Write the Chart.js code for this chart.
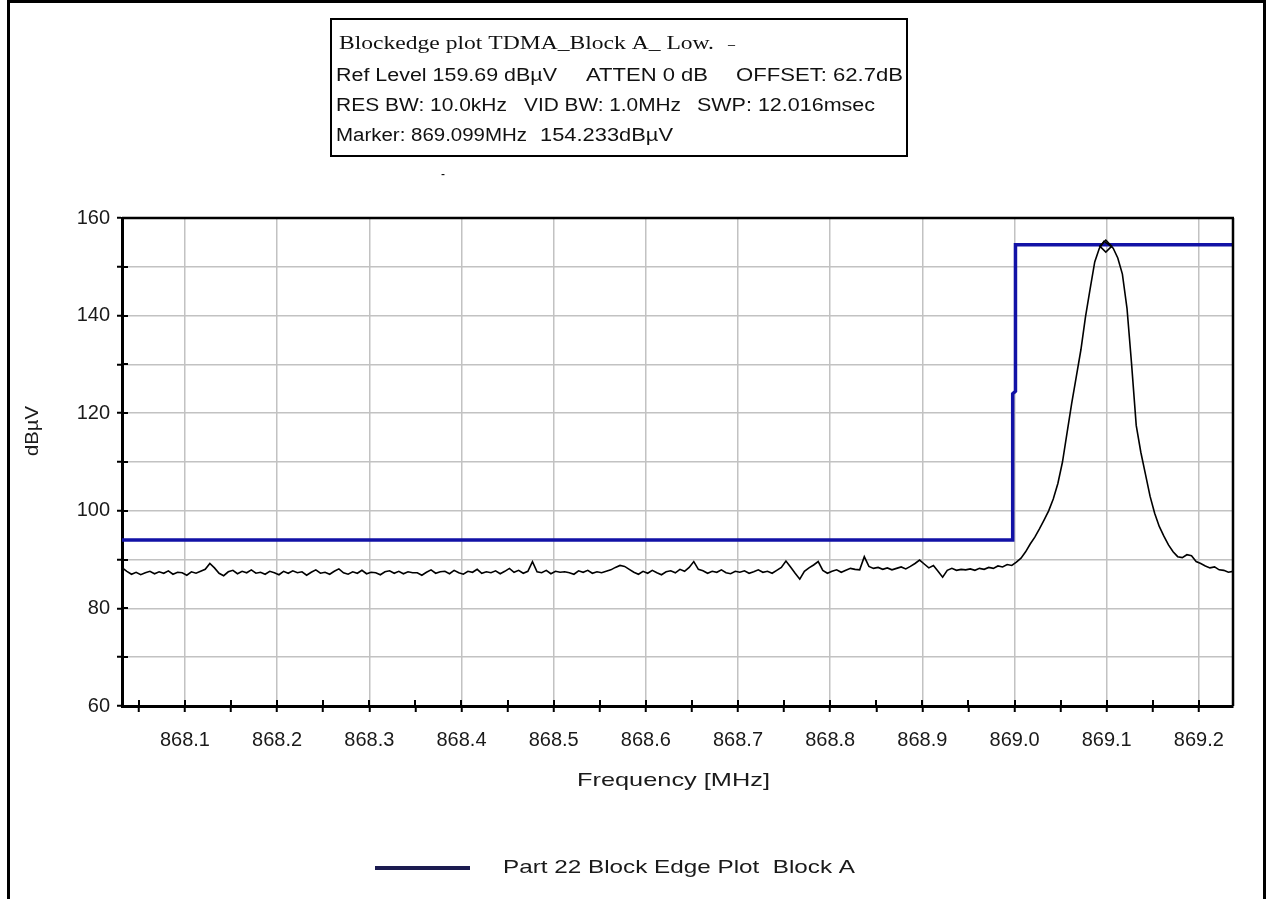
<!DOCTYPE html>
<html>
<head>
<meta charset="utf-8">
<script src="https://cdn.jsdelivr.net/npm/chart.js@4.4.1/dist/chart.umd.min.js"></script>
<style>
  html, body { margin: 0; padding: 0; background: #fff; }
  canvas { display: block; }
</style>
</head>
<body>
<canvas id="plot" width="1268" height="899"></canvas>
<script>
// sweep grid of the analyzer trace
const freqStart = 868.032;
const freqStep = 0.005;

// measured trace, dBµV (one value per sweep point)
const level = [
  88.3, 87.6, 87.0, 87.4, 86.9, 87.3, 87.6, 87.1, 87.5, 87.2, 87.7, 87.0, 87.4, 87.3, 86.8, 87.5, 87.2, 87.6, 88.0, 89.2,
  88.3, 87.2, 86.7, 87.5, 87.8, 87.1, 87.6, 87.3, 87.9, 87.2, 87.4, 87.0, 87.6, 87.3, 86.9, 87.6, 87.2, 87.7, 87.3, 87.5,
  86.8, 87.4, 87.9, 87.2, 87.4, 87.0, 87.6, 88.1, 87.3, 87.0, 87.5, 87.2, 87.8, 87.1, 87.4, 87.3, 86.9, 87.5, 87.7, 87.2,
  87.6, 87.1, 87.5, 87.3, 87.3, 86.8, 87.4, 87.9, 87.2, 87.5, 87.6, 87.1, 87.8, 87.3, 87.0, 87.6, 87.4, 88.0, 87.2, 87.5,
  87.3, 87.7, 87.1, 87.6, 88.2, 87.4, 87.8, 87.2, 87.6, 89.6, 87.5, 87.3, 87.8, 87.1, 87.6, 87.4, 87.5, 87.3, 87.0, 87.7,
  87.4, 87.8, 87.2, 87.5, 87.3, 87.6, 87.9, 88.4, 88.8, 88.6, 88.0, 87.4, 87.0, 87.6, 87.2, 87.8, 87.3, 86.9, 87.5, 87.7,
  87.3, 88.0, 87.6, 88.4, 89.6, 88.0, 87.7, 87.2, 87.6, 87.4, 87.9, 87.3, 87.1, 87.6, 87.4, 87.7, 87.2, 87.5, 87.9, 87.4,
  87.6, 87.2, 87.8, 88.4, 89.7, 88.5, 87.2, 86.0, 87.6, 88.3, 88.9, 89.6, 87.8, 87.2, 87.6, 87.9, 87.4, 87.8, 88.2, 88.0,
  87.9, 90.6, 88.6, 88.2, 88.4, 88.0, 88.3, 87.9, 88.2, 88.5, 88.1, 88.6, 89.2, 89.9, 89.1, 88.3, 88.8, 87.6, 86.4, 87.8,
  88.2, 87.8, 88.0, 87.9, 88.1, 87.8, 88.2, 88.0, 88.4, 88.2, 88.7, 88.5, 89.0,
  88.8, 89.5, 90.3, 91.6, 93.2, 94.6, 96.3, 98.1, 100.0, 102.4, 105.6, 110.0, 116.0, 122.0, 127.5, 133.0, 139.8, 145.5,
  151.0, 153.8, 155.2, 154.6, 153.8, 151.8, 148.5, 141.5, 130.0, 117.5, 112.0, 107.5, 103.0, 99.5, 96.8, 94.8, 93.0,
  91.6, 90.6, 90.4, 91.0, 90.8, 89.6, 89.2, 88.7, 88.3, 88.5, 87.9, 87.8, 87.4, 87.6
];

// block edge limit line
const limitFreq = [868.0317, 868.998, 868.998, 869.001, 869.001, 869.237];
const limitLevel = [94, 94, 124, 124.5, 154.5, 154.5];

// marker
const markerFreq = [869.099];
const markerLevel = [154.233];

const xMin = 868.0317, xMax = 869.237;
const yMin = 60, yMax = 160;

const headerTitle = "Blockedge plot TDMA_Block A_ Low.";
const headerRow2 = ["Ref Level 159.69 dBµV", "ATTEN 0 dB", "OFFSET: 62.7dB"];
const headerRow3 = ["RES BW: 10.0kHz", "VID BW: 1.0MHz", "SWP: 12.016msec"];
const headerRow4 = ["Marker: 869.099MHz", "154.233dBµV"];
const xTitle = "Frequency [MHz]";
const yTitle = "dBµV";
const legendLabel = "Part 22 Block Edge Plot  Block A";

const isTenth = (v) => Math.abs(v * 10 - Math.round(v * 10)) < 1e-6;

// draws text squeezed/stretched to a given width (the original is a stretched screen grab)
function fitText(ctx, text, x, y, w, font) {
  ctx.save();
  ctx.font = font;
  const m = ctx.measureText(text).width;
  ctx.translate(x, y);
  ctx.scale(w / m, 1);
  ctx.fillText(text, 0, 0);
  ctx.restore();
}

function seg(ctx, x1, y1, x2, y2) {
  ctx.beginPath();
  ctx.moveTo(x1, y1);
  ctx.lineTo(x2, y2);
  ctx.stroke();
}

const decor = {
  id: "decor",
  afterDraw(chart) {
    const { ctx, chartArea: a, scales } = chart;
    const sx = scales.x, sy = scales.y;
    const sans = '"Liberation Sans", Arial, sans-serif';
    ctx.save();

    // inner halves of the tick marks
    ctx.strokeStyle = "#000";
    ctx.lineWidth = 2;
    sx.ticks.forEach((t) => {
      const px = Math.round(sx.getPixelForValue(t.value));
      seg(ctx, px, a.bottom, px, a.bottom - 6);
    });
    sy.ticks.forEach((t) => {
      const py = Math.round(sy.getPixelForValue(t.value));
      seg(ctx, a.left, py, a.left + 6, py);
    });

    // top and right frame of the plot
    ctx.lineWidth = 2.5;
    seg(ctx, a.left, a.top, a.right + 1, a.top);
    seg(ctx, a.right, a.top, a.right, a.bottom);

    // outer page frame
    ctx.lineWidth = 3;
    seg(ctx, 8.5, 0, 8.5, 899);
    seg(ctx, 7, 1.5, 1266, 1.5);
    seg(ctx, 1264.5, 0, 1264.5, 899);

    // header box
    ctx.fillStyle = "#fff";
    ctx.fillRect(331, 19, 576, 137);
    ctx.lineWidth = 2;
    ctx.strokeRect(331, 19, 576, 137);
    ctx.fillStyle = "#111";
    ctx.textBaseline = "middle";
    fitText(ctx, headerTitle, 339, 44, 375, '18px "Liberation Serif", serif');
    ctx.textBaseline = "alphabetic";
    fitText(ctx, "_", 728, 44, 7, '16px "Liberation Serif", serif');
    ctx.textBaseline = "middle";
    const row2x = [[336, 221], [586, 122], [736, 167]];
    const row3x = [[336, 171], [524, 157], [697, 178]];
    const row4x = [[336, 191], [540, 133]];
    headerRow2.forEach((s, i) => fitText(ctx, s, row2x[i][0], 76, row2x[i][1], "18px " + sans));
    headerRow3.forEach((s, i) => fitText(ctx, s, row3x[i][0], 106, row3x[i][1], "18px " + sans));
    headerRow4.forEach((s, i) => fitText(ctx, s, row4x[i][0], 136, row4x[i][1], "18px " + sans));
    fitText(ctx, "-", 441, 175, 4, "14px " + sans);

    // axis titles
    ctx.fillStyle = "#1a1a1a";
    fitText(ctx, xTitle, 577, 781, 193, "19px " + sans);
    ctx.save();
    ctx.translate(33, 431);
    ctx.rotate(-Math.PI / 2);
    fitText(ctx, yTitle, -25, 0, 50, "19px " + sans);
    ctx.restore();

    // legend
    ctx.strokeStyle = "#1b1b50";
    ctx.lineWidth = 4;
    seg(ctx, 375, 868, 470, 868);
    fitText(ctx, legendLabel, 503, 868, 352, "19px " + sans);

    ctx.restore();
  },
};

const trace = level.map((v, i) => ({ x: freqStart + i * freqStep, y: v }));
const limit = limitFreq.map((f, i) => ({ x: f, y: limitLevel[i] }));
const mark = markerFreq.map((f, i) => ({ x: f, y: markerLevel[i] }));

new Chart(document.getElementById("plot"), {
  type: "line",
  data: {
    datasets: [
      {
        label: "Trace",
        data: trace,
        borderColor: "#000",
        borderWidth: 1.6,
        pointRadius: 0,
        tension: 0,
        order: 1,
      },
      {
        label: legendLabel,
        data: limit,
        borderColor: "#1212a6",
        borderWidth: 3.5,
        pointRadius: 0,
        tension: 0,
        order: 2,
      },
      {
        label: "Marker",
        data: mark,
        showLine: false,
        pointStyle: "rectRot",
        pointRadius: 6,
        pointBorderColor: "#000",
        pointBackgroundColor: "rgba(255,255,255,0)",
        pointBorderWidth: 1.5,
        order: 0,
      },
    ],
  },
  options: {
    responsive: false,
    animation: false,
    devicePixelRatio: 1,
    layout: { padding: { top: 218, right: 35, left: 0, bottom: 0 } },
    plugins: { legend: { display: false }, tooltip: { enabled: false } },
    scales: {
      x: {
        type: "linear",
        min: xMin,
        max: xMax,
        afterFit: (s) => { s.height = 193; },
        border: { color: "#000", width: 3 },
        grid: {
          color: (c) => (c.tick && isTenth(c.tick.value) ? "#c2c2c2" : "rgba(0,0,0,0)"),
          lineWidth: 1.5,
          tickColor: "#000",
          tickWidth: 2,
          tickLength: 6,
        },
        ticks: {
          stepSize: 0.05,
          includeBounds: false,
          autoSkip: false,
          maxRotation: 0,
          padding: 16,
          color: "#1a1a1a",
          font: { family: '"Liberation Sans", Arial, sans-serif', size: 20 },
          callback: (v) => (isTenth(v) ? Number(v).toFixed(1) : ""),
        },
      },
      y: {
        min: yMin,
        max: yMax,
        afterFit: (s) => { s.width = 122; },
        border: { color: "#000", width: 3 },
        grid: {
          color: "#c2c2c2",
          lineWidth: 1.5,
          tickColor: "#000",
          tickWidth: 2,
          tickLength: 5,
        },
        ticks: {
          stepSize: 10,
          autoSkip: false,
          padding: 7,
          color: "#1a1a1a",
          font: { family: '"Liberation Sans", Arial, sans-serif', size: 20 },
          callback: (v) => (v % 20 === 0 ? v : ""),
        },
      },
    },
  },
  plugins: [decor],
});
</script>
</body>
</html>
